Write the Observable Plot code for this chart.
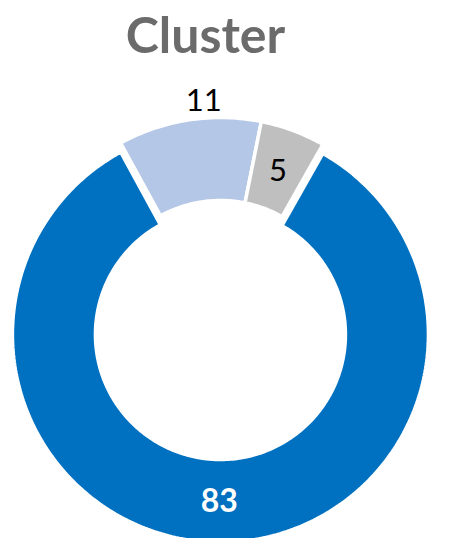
<!DOCTYPE html>
<html><head><meta charset="utf-8">
<script src="https://cdn.jsdelivr.net/npm/d3@7"></script>
<script src="https://cdn.jsdelivr.net/npm/@observablehq/plot@0.6"></script>
<style>
html,body{margin:0;padding:0;background:#fff;overflow:hidden}
#title{width:411px;height:68px;line-height:68px;text-align:center;font-family:Lato,sans-serif;font-weight:700;font-size:50px;color:#6b6b6b}
#chart svg{display:block;overflow:visible}
</style></head><body>
<div id="title">Cluster</div>
<div id="chart"></div>
<script>
// ---- data ----
const categories = ["Category 1", "Category 2", "Category 3"];
const values = [83, 11, 5];
const labels = ["83", "11", "5"];

// ---- styling / layout ----
const colors = ["#0070C0", "#B4C7E7", "#BFBFBF"];
const startAngle = 29.5;          // degrees clockwise from 12 o'clock
const rOuter = 208, rInner = 125;
const explode = [9, 0, 0];
const labelStyle = [
  {r: 167, da: 0, fill: "white", weight: 700},
  {r: 225, da: 4.4, fill: "black", weight: 400},
  {r: 165, da: 0, fill: "black", weight: 400}
];

const rad = d => d * Math.PI / 180;
const total = d3.sum(values);
let acc = startAngle;
const slices = categories.map((c, i) => {
  const a0 = acc, a1 = acc + values[i] / total * 360;
  acc = a1;
  const mid = (a0 + a1) / 2;
  return {c, i, v: values[i], a0, a1, mid,
    ox: explode[i] * Math.sin(rad(mid)), oy: explode[i] * Math.cos(rad(mid))};
});

const pts = [];
for (const s of slices) {
  const n = Math.max(8, Math.ceil(s.a1 - s.a0));
  for (let k = 0; k <= n; ++k) {
    const a = s.a0 + (s.a1 - s.a0) * k / n;
    pts.push({key: s.c, x: s.ox + rOuter * Math.sin(rad(a)), y: s.oy + rOuter * Math.cos(rad(a))});
  }
  for (let k = n; k >= 0; --k) {
    const a = s.a0 + (s.a1 - s.a0) * k / n;
    pts.push({key: s.c, x: s.ox + rInner * Math.sin(rad(a)), y: s.oy + rInner * Math.cos(rad(a))});
  }
}

const labelData = slices.map(s => {
  const st = labelStyle[s.i];
  const a = s.mid + st.da;
  return {text: labels[s.i], x: s.ox + st.r * Math.sin(rad(a)), y: s.oy + st.r * Math.cos(rad(a)),
    fill: st.fill, weight: st.weight};
});

const chart = Plot.plot({
  width: 454, height: 470, margin: 0,
  x: {domain: [-220, 234], axis: null},
  y: {domain: [-213, 257], axis: null},
  color: {domain: categories, range: colors},
  style: {background: "white"},
  marks: [
    Plot.line(pts, {x: "x", y: "y", z: "key", fill: "key", stroke: "white", strokeWidth: 3.5, curve: "linear-closed", strokeLinejoin: "miter"}),
    Plot.text(labelData.filter(d => d.weight === 400), {x: "x", y: "y", text: "text", fill: "black", fontSize: 31, fontFamily: "Lato"}),
    Plot.text(labelData.filter(d => d.weight === 700), {x: "x", y: "y", text: "text", fill: "white", fontSize: 32, fontWeight: 700, fontFamily: "Lato"})
  ]
});
document.getElementById("chart").append(chart);
</script>
</body></html>
